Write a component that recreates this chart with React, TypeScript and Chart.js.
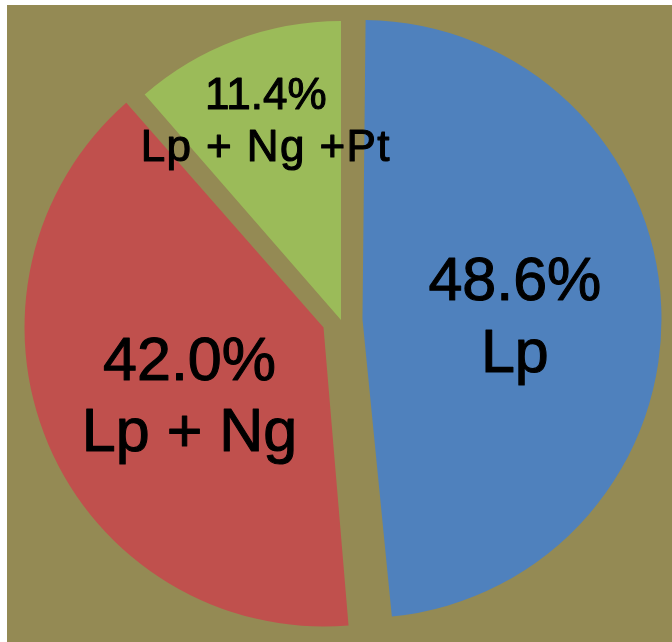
import React, { useEffect, useRef } from "react";
import { Chart, registerables } from "chart.js";

Chart.register(...registerables);

// Data
const categories = ["Lp", "Lp + Ng", "Lp + Ng +Pt"];
const percentLabels = ["48.6%", "42.0%", "11.4%"];
// angular share of each slice as drawn in the picture
const sliceValues = [48.6, 40.0, 11.4];

// Styles
const SLICE_COLORS = ["#4F81BD", "#C0504D", "#9BBB59"];
const BG_COLOR = "#948A54";
const RADIUS = 299;
const EXPLODE = [86, 76, 0];
const LABEL_FONT = [61, 61, 44];
const LABEL_GAP = [72, 71.5, 52];
const LABEL_RADIUS = [0.51, 0.5, 0.717];
const LABEL_TURN = [0.5, -3.3, 0];
const LABEL_SPACING = [0, 0, 1.4];

// keep every exploded slice at the same radius (Chart.js grows offset arcs)
const equalRadiusPlugin = {
  id: "equalRadius",
  beforeDatasetsDraw(chart: any) {
    const meta = chart.getDatasetMeta(0);
    meta.data.forEach((arc: any, i: number) => {
      const circ = arc.endAngle - arc.startAngle;
      const fix = 1 - Math.sin(Math.min(Math.PI, circ));
      arc.outerRadius = RADIUS - (EXPLODE[i] / 4) * fix;
    });
  },
};

const labelPlugin = {
  id: "sliceLabels",
  afterDatasetsDraw(chart: any) {
    const ctx = chart.ctx as CanvasRenderingContext2D;
    const meta = chart.getDatasetMeta(0);
    meta.data.forEach((arc: any, i: number) => {
      const p = arc.getProps(["x", "y", "startAngle", "endAngle"], true);
      const mid = (p.startAngle + p.endAngle) / 2;
      const off = EXPLODE[i] / 4;
      const cx = p.x + Math.cos(mid) * off;
      const cy = p.y + Math.sin(mid) * off;
      const a = mid + (LABEL_TURN[i] * Math.PI) / 180;
      const r = LABEL_RADIUS[i] * RADIUS;
      const ax = cx + Math.cos(a) * r;
      const ay = cy + Math.sin(a) * r;
      const fs = LABEL_FONT[i];
      const gap = LABEL_GAP[i];
      ctx.save();
      ctx.fillStyle = "#000000";
      ctx.strokeStyle = "#000000";
      ctx.lineWidth = 1.1;
      ctx.lineJoin = "round";
      ctx.textAlign = "center";
      ctx.textBaseline = "alphabetic";
      ctx.font = `${fs}px "Liberation Sans", Arial, sans-serif`;
      const lines = [percentLabels[i], categories[i]];
      lines.forEach((t, k) => {
        (ctx as any).letterSpacing = k === 1 ? `${LABEL_SPACING[i]}px` : "0px";
        const capCenter = ay + (k - 0.5) * gap;
        const y = capCenter + 0.358 * fs;
        ctx.fillText(t, ax, y);
        ctx.strokeText(t, ax, y);
      });
      ctx.restore();
    });
  },
};

export default function App() {
  const canvasRef = useRef<HTMLCanvasElement | null>(null);

  useEffect(() => {
    document.body.style.margin = "0";
    const canvas = canvasRef.current;
    if (!canvas) return;
    const chart = new Chart(canvas, {
      type: "pie",
      data: {
        labels: categories,
        datasets: [
          {
            data: sliceValues,
            backgroundColor: SLICE_COLORS,
            borderWidth: 0,
            offset: EXPLODE,
            hoverOffset: 0,
          },
        ],
      },
      options: {
        responsive: false,
        animation: false,
        radius: RADIUS,
        layout: { padding: { left: 10, bottom: 2, top: 0, right: 0 } },
        plugins: {
          legend: { display: false },
          tooltip: { enabled: false },
        },
        events: [],
      } as any,
      plugins: [equalRadiusPlugin, labelPlugin],
    });
    return () => chart.destroy();
  }, []);

  return (
    <div style={{ position: "relative", width: 672, height: 642, background: "#ffffff" }}>
      <div
        style={{
          position: "absolute",
          left: 7,
          top: 5,
          right: 0,
          bottom: 0,
          background: BG_COLOR,
        }}
      />
      <canvas
        ref={canvasRef}
        width={672}
        height={642}
        style={{ position: "absolute", left: 0, top: 0, width: 672, height: 642 }}
      />
    </div>
  );
}
